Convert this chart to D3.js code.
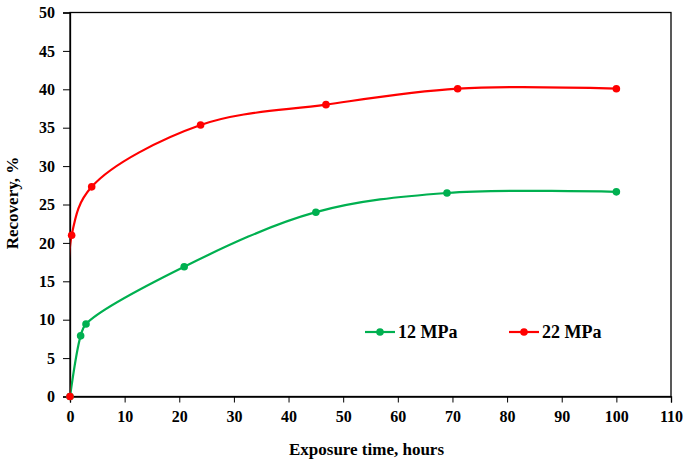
<!DOCTYPE html>
<html><head><meta charset="utf-8">
<script src="https://cdn.jsdelivr.net/npm/d3@7"></script>
<style>body{margin:0;background:#fff}svg{display:block}text{font-family:"Liberation Serif","Times New Roman",serif;font-weight:bold;fill:#000}</style>
</head><body><div id="chart"></div>
<script>
const xTicks = [0,10,20,30,40,50,60,70,80,90,100,110];
const yTicks = [0,5,10,15,20,25,30,35,40,45,50];
const seriesNames = ["12 MPa","22 MPa"];
const seriesColors = ["#00B050","#FF0000"];
const time12 = [0,1.95,2.93,20.9,45.0,69.0,100.0];
const rec12  = [0,7.9,9.44,16.9,24.0,26.5,26.65];
const time22 = [0,0.3,3.97,23.9,46.85,70.95,100.0];
const rec22  = [0,21.0,27.3,35.35,38.0,40.08,40.08];

const W=685,H=463;
const m={l:70,r:14,t:12.5,b:66.5};
const svg=d3.select("#chart").append("svg").attr("width",W).attr("height",H);
const x=d3.scaleLinear().domain([0,110]).range([m.l,W-m.r]);
const y=d3.scaleLinear().domain([0,50]).range([H-m.b,m.t]);

svg.append("defs").append("clipPath").attr("id","clip").append("rect")
  .attr("x",x(0)+0.5).attr("y",y(50)).attr("width",x(110)-x(0)).attr("height",y(0)-y(50));

// frame
svg.append("rect").attr("x",x(0)).attr("y",y(50)).attr("width",x(110)-x(0)).attr("height",y(0)-y(50))
  .attr("fill","none").attr("stroke","#000").attr("stroke-width",1.3);

const xa=svg.append("g").attr("transform",`translate(0,${y(0)})`)
  .call(d3.axisBottom(x).tickValues(xTicks).tickSize(6).tickPadding(8).tickFormat(d3.format("d")));
const ya=svg.append("g").attr("transform",`translate(${x(0)},0)`)
  .call(d3.axisLeft(y).tickValues(yTicks).tickSize(7).tickPadding(8).tickFormat(d3.format("d")));
[xa,ya].forEach(a=>{a.select(".domain").attr("stroke","#000").attr("stroke-width",1.3);
  a.selectAll(".tick line").attr("stroke","#000").attr("stroke-width",1);
  a.selectAll("text").attr("font-size",16).attr("font-family","Liberation Serif").attr("font-weight","bold");});

const data=[time12.map((t,i)=>[t,rec12[i]]), time22.map((t,i)=>[t,rec22[i]])];
const line=d3.line().x(d=>x(d[0])).y(d=>y(d[1])).curve(d3.curveCatmullRom.alpha(0.5));
const lines=svg.append("g").attr("clip-path","url(#clip)");
data.forEach((s,i)=>{
  lines.append("path").attr("d",line(s)).attr("fill","none").attr("stroke",seriesColors[i]).attr("stroke-width",2.2);
});
[0,1].forEach(i=>{
  svg.selectAll(null).data(data[i]).enter().append("circle")
    .attr("cx",d=>x(d[0])).attr("cy",d=>y(d[1])).attr("r",3.8).attr("fill",seriesColors[i]);
});

// axis titles
svg.append("text").attr("x",(x(0)+x(110))/2-4).attr("y",455).attr("text-anchor","middle")
  .attr("font-size",17).text("Exposure time, hours");
svg.append("text").attr("transform","translate(18,203) rotate(-90)").attr("text-anchor","middle")
  .attr("font-size",17).text("Recovery, %");

// legend
const legX=[365,509], legY=332;
seriesNames.forEach((n,i)=>{
  const g=svg.append("g");
  g.append("line").attr("x1",legX[i]).attr("x2",legX[i]+30).attr("y1",legY).attr("y2",legY)
    .attr("stroke",seriesColors[i]).attr("stroke-width",2.2);
  g.append("circle").attr("cx",legX[i]+15).attr("cy",legY).attr("r",3.8).attr("fill",seriesColors[i]);
  g.append("text").attr("x",legX[i]+33).attr("y",legY+6).attr("font-size",18).text(n);
});
</script></body></html>
